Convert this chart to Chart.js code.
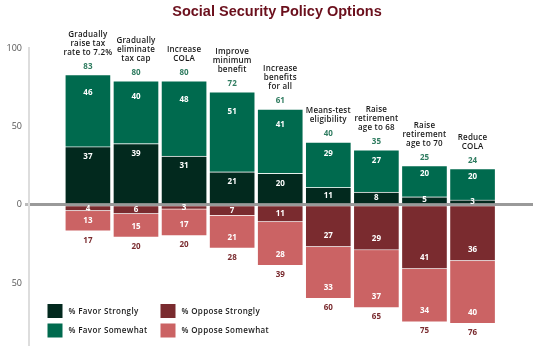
<!DOCTYPE html>
<html>
<head>
<meta charset="utf-8">
<script src="https://cdn.jsdelivr.net/npm/chart.js@4.4.1/dist/chart.umd.min.js"></script>
<style>
  body { margin: 0; background: #fff; }
  #wrap { width: 544px; height: 354px; position: relative; }
</style>
</head>
<body>
<div id="wrap"><canvas id="grafico"></canvas></div>
<script>
// Categorías (una línea por elemento)
const categories = [
    ['Gradually', 'raise tax', 'rate to 7.2%'],
    ['Gradually', 'eliminate', 'tax cap'],
    ['Increase', 'COLA'],
    ['Improve', 'minimum', 'benefit'],
    ['Increase', 'benefits', 'for all'],
    ['Means-test', 'eligibility'],
    ['Raise', 'retirement', 'age to 68'],
    ['Raise', 'retirement', 'age to 70'],
    ['Reduce', 'COLA']
];
const favorStrongly = [37, 39, 31, 21, 20, 11, 8, 5, 3];
const favorSomewhat = [46, 40, 48, 51, 41, 29, 27, 20, 20];
const opposeStrongly = [4, 6, 3, 7, 11, 27, 29, 41, 36];
const opposeSomewhat = [13, 15, 17, 21, 28, 33, 37, 34, 40];
const favorTotal = [83, 80, 80, 72, 61, 40, 35, 25, 24];
const opposeTotal = [17, 20, 20, 28, 39, 60, 65, 75, 76];
const yTicks = [100, 50, 0, -50];
const titulo = 'Social Security Policy Options';

const FONT = '"Open Sans", "DejaVu Sans", sans-serif';

const toPoints = (arr, sign) => arr.map((v, i) => ({ x: i, y: sign * v }));

// Título, etiquetas de valores, categorías y leyenda
const etiquetas = {
    id: 'etiquetas',
    afterDraw(chart) {
        const ctx = chart.ctx;
        ctx.save();
        ctx.textAlign = 'center';
        ctx.textBaseline = 'middle';

        // Título
        ctx.fillStyle = '#6b0f1c';
        ctx.font = 'bold 14.5px "Liberation Sans", Arial, sans-serif';
        ctx.fillText(titulo, 277, 12);

        chart.data.datasets.forEach((ds, d) => {
            const meta = chart.getDatasetMeta(d);
            meta.data.forEach((bar, i) => {
                const p = bar.getProps(['x', 'y', 'base'], true);
                const top = Math.min(p.y, p.base);
                const bottom = Math.max(p.y, p.base);
                const h = bottom - top;
                let y;
                if (d === 0) y = top + Math.min(h / 2, 10);
                else if (d === 1) y = top + Math.min(h / 2, h * 0.25);
                else y = bottom - Math.min(h / 2, 11);
                ctx.letterSpacing = '0px';
                ctx.fillStyle = '#ffffff';
                ctx.font = '700 8px ' + FONT;
                ctx.fillText(Math.abs(ds.data[i].y), p.x, y);

                if (d === 1) {
                    ctx.fillStyle = '#2f7c60';
                    ctx.fillText(favorTotal[i], p.x, top - 8);
                    ctx.fillStyle = '#1a1a1a';
                    ctx.font = '600 8px ' + FONT;
                    ctx.letterSpacing = '0.2px';
                    const lines = categories[i];
                    lines.forEach((line, k) => {
                        ctx.fillText(line, p.x, top - 22 - (lines.length - 1 - k) * 9);
                    });
                }
                if (d === 3) {
                    ctx.fillStyle = '#7a2b2f';
                    ctx.fillText(opposeTotal[i], p.x, bottom + 9);
                }
            });
        });

        // Leyenda en dos columnas
        ctx.textAlign = 'left';
        ctx.font = '600 8px ' + FONT;
        ctx.letterSpacing = '0.35px';
        chart.data.datasets.forEach((ds, k) => {
            const col = Math.floor(k / 2);
            const row = k % 2;
            const x = 47.5 + col * 113;
            const y = 304 + row * 19.5;
            ctx.fillStyle = ds.backgroundColor;
            ctx.fillRect(x, y, 15, 14);
            ctx.fillStyle = '#1a1a1a';
            ctx.fillText(ds.label, x + 21, y + 7.5);
        });
        ctx.restore();
    }
};

new Chart(document.getElementById('grafico'), {
    type: 'bar',
    data: {
        datasets: [
            { label: '% Favor Strongly', data: toPoints(favorStrongly, 1), backgroundColor: '#02291e' },
            { label: '% Favor Somewhat', data: toPoints(favorSomewhat, 1), backgroundColor: '#006a4e' },
            { label: '% Oppose Strongly', data: toPoints(opposeStrongly, -1), backgroundColor: '#7a2b2f' },
            { label: '% Oppose Somewhat', data: toPoints(opposeSomewhat, -1), backgroundColor: '#cb6364' }
        ]
    },
    options: {
        responsive: true,
        maintainAspectRatio: false,
        animation: false,
        datasets: {
            bar: {
                barThickness: 46,
                borderWidth: 1,
                borderColor: 'rgba(255,255,255,0.45)'
            }
        },
        layout: { padding: { left: 0, right: 11, top: 48, bottom: 2 } },
        plugins: {
            legend: { display: false },
            tooltip: { enabled: false },
            title: { display: false }
        },
        scales: {
            x: {
                type: 'linear',
                stacked: true,
                display: false,
                min: -0.643,
                max: 8.675
            },
            y: {
                stacked: true,
                min: -90,
                max: 100,
                z: 1,
                afterFit: scale => { scale.width = 29; },
                afterBuildTicks: scale => {
                    scale.ticks = yTicks.map(v => ({ value: v }));
                },
                ticks: {
                    color: '#555',
                    padding: 3,
                    font: { family: FONT, size: 9 },
                    callback: v => Math.abs(v)
                },
                grid: {
                    drawOnChartArea: true,
                    tickLength: 4,
                    tickColor: '#bbb',
                    color: c => (c.tick && c.tick.value === 0 ? '#9a9a9a' : 'rgba(0,0,0,0)'),
                    lineWidth: c => (c.tick && c.tick.value === 0 ? 3 : 0)
                },
                border: { display: true, color: '#dddddd', width: 2 }
            }
        }
    },
    plugins: [etiquetas]
});
</script>
</body>
</html>
